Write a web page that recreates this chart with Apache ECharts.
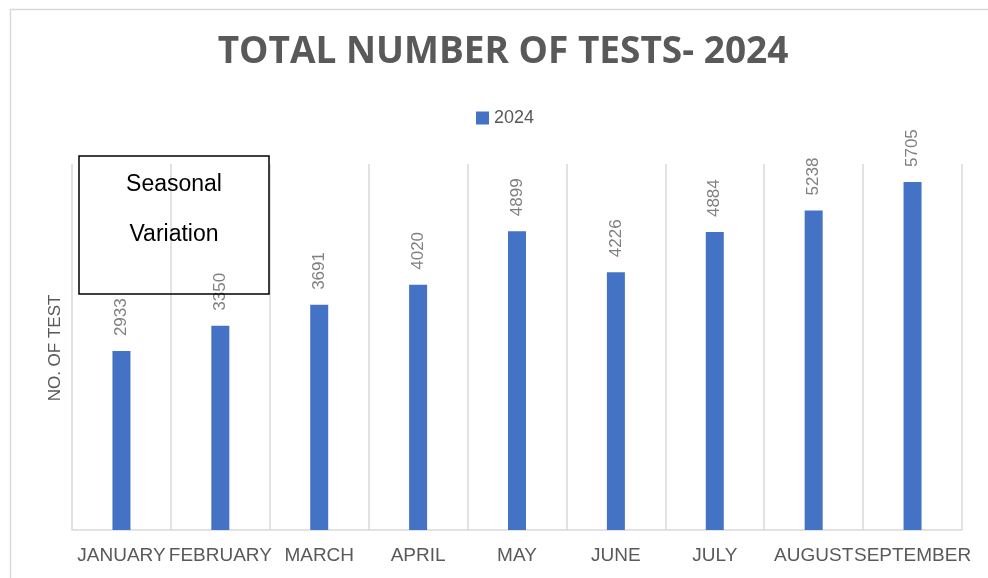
<!DOCTYPE html>
<html>
<head>
<meta charset="utf-8">
<script src="https://cdn.jsdelivr.net/npm/echarts@6/dist/echarts.min.js"></script>
<style>
html,body{margin:0;padding:0;background:#fff;}
#chart{width:988px;height:578px;}
</style>
</head>
<body>
<div id="chart"></div>
<script>
const categories = ['JANUARY','FEBRUARY','MARCH','APRIL','MAY','JUNE','JULY','AUGUST','SEPTEMBER'];
const values2024 = [2933, 3350, 3691, 4020, 4899, 4226, 4884, 5238, 5705];
const seriesName = '2024';
const titleText = 'TOTAL NUMBER OF TESTS- 2024';
const yAxisTitle = 'NO. OF TEST';
const noteLines = ['Seasonal', 'Variation'];

const chart = echarts.init(document.getElementById('chart'), null, {renderer: 'canvas'});
const gray = '#595959';
chart.setOption({
  backgroundColor: '#fff',
  animation: false,
  title: {
    text: titleText,
    left: 498,
    textAlign: 'center',
    top: 29,
    textStyle: {fontFamily: 'Open Sans', fontWeight: 'bold', fontSize: 37, color: gray}
  },
  legend: {
    data: [seriesName],
    left: 471,
    top: 104,
    icon: 'rect',
    itemWidth: 13,
    itemHeight: 13,
    textStyle: {fontFamily: 'Liberation Sans', fontSize: 18, color: gray}
  },
  grid: {left: 72, right: 26, top: 164, bottom: 48, containLabel: false},
  xAxis: {
    type: 'category',
    data: categories,
    boundaryGap: true,
    axisLine: {lineStyle: {color: '#d9d9d9', width: 1.5}},
    axisTick: {show: false},
    splitLine: {show: true, lineStyle: {color: '#d9d9d9', width: 1.5}},
    axisLabel: {interval: 0, margin: 16, fontFamily: 'Liberation Sans', fontSize: 19, color: gray}
  },
  yAxis: {
    type: 'value',
    min: 0,
    max: 6000,
    show: true,
    axisLine: {show: false},
    axisTick: {show: false},
    axisLabel: {show: false},
    splitLine: {show: false}
  },
  series: [{
    name: seriesName,
    type: 'bar',
    data: values2024,
    barWidth: 18,
    itemStyle: {color: '#4472c4'},
    label: {
      show: true,
      position: 'top',
      rotate: 90,
      align: 'left',
      verticalAlign: 'middle',
      distance: 15,
      fontFamily: 'Liberation Sans',
      fontSize: 17,
      color: '#808080'
    }
  }],
  graphic: [
    {type: 'rect', left: 8, top: 7, shape: {x: 0, y: 0, width: 1100, height: 700},
     style: {fill: 'none', stroke: '#d9d9d9', lineWidth: 1.5}, silent: true},
    {type: 'text', x: 55, y: 348, rotation: Math.PI / 2,
     style: {text: yAxisTitle, fontFamily: 'Liberation Sans', fontSize: 17, fill: gray,
             textAlign: 'center', textVerticalAlign: 'middle'}},
    {type: 'rect', shape: {x: 79, y: 156, width: 190, height: 138},
     style: {fill: 'none', stroke: '#000', lineWidth: 1.5}, z: 100},
    {type: 'text', x: 174, y: 185, z: 100,
     style: {text: noteLines[0], fontFamily: 'Liberation Sans', fontSize: 23, fill: '#000',
             textAlign: 'center', textVerticalAlign: 'middle'}},
    {type: 'text', x: 174, y: 235, z: 100,
     style: {text: noteLines[1], fontFamily: 'Liberation Sans', fontSize: 23, fill: '#000',
             textAlign: 'center', textVerticalAlign: 'middle'}}
  ]
});
</script>
</body>
</html>
